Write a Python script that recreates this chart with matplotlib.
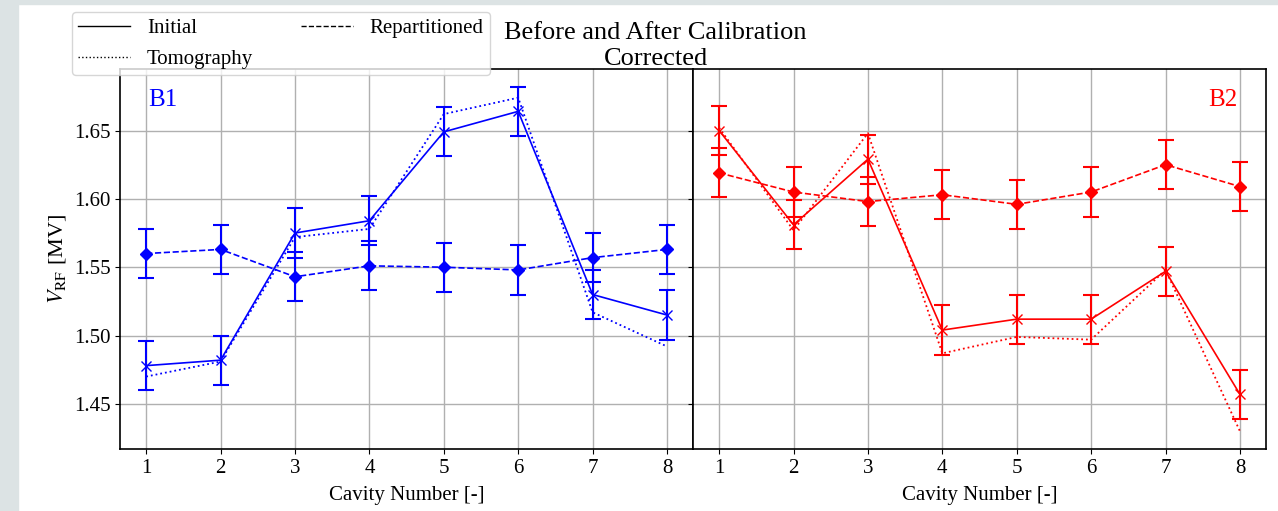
import matplotlib.pyplot as plt
from matplotlib.lines import Line2D
from matplotlib.patches import Rectangle

plt.rcParams['font.family'] = ['Liberation Serif', 'DejaVu Serif']
plt.rcParams['mathtext.fontset'] = 'stix'

# cavity voltages per beam [MV]
cavities = [1, 2, 3, 4, 5, 6, 7, 8]

b1_initial = [1.478, 1.482, 1.575, 1.584, 1.649, 1.664, 1.530, 1.515]
b1_tomo = [1.470, 1.481, 1.572, 1.578, 1.662, 1.674, 1.517, 1.492]
b1_repart = [1.560, 1.563, 1.543, 1.551, 1.550, 1.548, 1.557, 1.563]

b2_initial = [1.650, 1.581, 1.629, 1.504, 1.512, 1.512, 1.547, 1.457]
b2_tomo = [1.652, 1.577, 1.648, 1.487, 1.499, 1.497, 1.548, 1.430]
b2_repart = [1.619, 1.605, 1.598, 1.603, 1.596, 1.605, 1.625, 1.609]

err = 0.018

fig, axes = plt.subplots(1, 2, sharey=True, figsize=(12.78, 5.11), dpi=100)
fig.subplots_adjust(left=0.094, right=0.9906, bottom=0.1213, top=0.865, wspace=0)

# light frame strips on the left and top edge of the figure
fig.patches.append(Rectangle((0, 0), 18 / 1278, 1, transform=fig.transFigure,
                             color='#dce3e4', zorder=-1))
fig.patches.append(Rectangle((0, 1 - 4 / 511), 1, 4 / 511, transform=fig.transFigure,
                             color='#dce3e4', zorder=-1))

beams = [
    ('B1', 'blue', b1_initial, b1_tomo, b1_repart),
    ('B2', 'red', b2_initial, b2_tomo, b2_repart),
]

for ax, (name, col, init, tomo, rep) in zip(axes, beams):
    ax.errorbar(cavities, init, yerr=err, color=col, ls='-', lw=1.2, marker='x',
                ms=7, capsize=6, elinewidth=1.5, capthick=1.5)
    ax.plot(cavities, tomo, color=col, ls=':', lw=1.3)
    ax.errorbar(cavities, rep, yerr=err, color=col, ls='--', lw=1.2, marker='D',
                ms=6.5, capsize=6, elinewidth=1.5, capthick=1.5)
    ax.grid(True, color='#b0b0b0', lw=1.0)
    ax.set_xticks(cavities)
    ax.set_xlim(0.65, 8.35)
    ax.set_xlabel('Cavity Number [-]', fontsize=15, labelpad=6)
    ax.tick_params(labelsize=15)
    for s in ax.spines.values():
        s.set_linewidth(1.2)

axes[0].set_ylim(1.417, 1.695)
axes[0].set_yticks([1.45, 1.50, 1.55, 1.60, 1.65])
axes[0].set_ylabel(r'$V_{\mathrm{RF}}$ [MV]', fontsize=16, labelpad=4)

axes[0].text(0.049, 0.918, 'B1', color='blue', fontsize=18, transform=axes[0].transAxes,
             va='center', ha='left')
axes[1].text(0.951, 0.918, 'B2', color='red', fontsize=18, transform=axes[1].transAxes,
             va='center', ha='right')

fig.suptitle('Before and After Calibration\nCorrected', fontsize=19, x=0.513, y=0.956,
             va='top', linespacing=1.2)

handles = [
    Line2D([], [], color='black', ls='-', lw=1),
    Line2D([], [], color='black', ls=':', lw=1),
    Line2D([], [], color='black', ls='--', lw=1),
]
fig.legend(handles, ['Initial', 'Tomography', 'Repartitioned'], ncol=2,
           loc='upper left', bbox_to_anchor=(0.0563, 0.9765), borderaxespad=0,
           fontsize=15, handlelength=2.5, columnspacing=2.3, borderpad=0.3,
           labelspacing=0.55)

fig.savefig('out.png', dpi=100)
